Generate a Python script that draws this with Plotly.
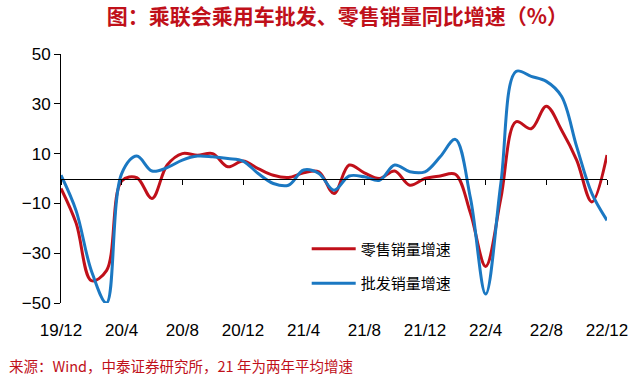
import plotly.graph_objects as go

months = ["19/12", "20/1", "20/2", "20/3", "20/4", "20/5", "20/6", "20/7", "20/8", "20/9", "20/10", "20/11",
          "20/12", "21/1", "21/2", "21/3", "21/4", "21/5", "21/6", "21/7", "21/8", "21/9", "21/10", "21/11",
          "21/12", "22/1", "22/2", "22/3", "22/4", "22/5", "22/6", "22/7", "22/8", "22/9", "22/10", "22/11", "22/12"]
tick_labels = ["19/12", "20/4", "20/8", "20/12", "21/4", "21/8", "21/12", "22/4", "22/8", "22/12"]

retail = [-4, -18, -41, -37, -1, 0.3, -8, 5.4, 10, 9.3, 10, 4.7, 7, 4, 1.3, 0.4, 2.3, 2.7, -6,
          5.4, 2.3, 0, 3, -2.7, 0, 1, 1.7, -14, -35.3, -8, 22.8, 20, 29, 19.5, 7.4, -9.4, 9.4]
wholesale = [1.3, -13, -37, -50, 2, 9, 3, 4.4, 7.4, 9, 8.7, 8, 7, 2, -2, -2.7, 3.4, 2, -4.7,
             1, 0.7, -0.7, 5.4, 2.7, 2.7, 8.7, 15.7, -8, -46.4, -2, 43, 41, 39, 33, 12.8, -6, -16.8]
y_ticks = [-50, -30, -10, 10, 30, 50]

RED = "#C0101A"
BLUE = "#1B78C2"
CJK = "Noto Sans CJK SC"

fig = go.Figure()
fig.add_trace(go.Scatter(x=months, y=retail, name="零售销量增速", mode="lines",
                         line=dict(color=RED, width=3, shape="spline"), legendgroup="a"))
fig.add_trace(go.Scatter(x=months, y=wholesale, name="批发销量增速", mode="lines",
                         line=dict(color=BLUE, width=3, shape="spline"), legendgroup="b",
                         xaxis="x2"))

fig.update_layout(
    width=640, height=377,
    margin=dict(l=61, r=26, t=54, b=74),
    paper_bgcolor="white", plot_bgcolor="white",
    title=dict(text="<b>图：乘联会乘用车批发、零售销量同比增速（%）</b>",
               x=0.527, xanchor="center", y=0.955, yanchor="middle",
               font=dict(family=CJK, size=21, color=RED)),
    xaxis=dict(type="category", categoryorder="array", categoryarray=months,
               range=[0, 36], tickvals=tick_labels, showline=False, showgrid=False, zeroline=False,
               ticks="outside", ticklen=12, tickcolor="rgba(0,0,0,0)",
               tickfont=dict(family="Liberation Sans, Arial", size=17, color="black")),
    xaxis2=dict(type="category", categoryorder="array", categoryarray=months,
                range=[0, 36], tickvals=tick_labels, overlaying="x", anchor="free", position=0.5,
                showline=True, linecolor="black", linewidth=1, showgrid=False, zeroline=False,
                ticks="outside", ticklen=5, tickcolor="black", showticklabels=False),
    yaxis=dict(range=[-50, 50], tickvals=y_ticks, showline=True, linecolor="black", linewidth=1,
               showgrid=False, zeroline=False, ticks="outside", ticklen=6, tickcolor="black",
               tickfont=dict(family="Liberation Sans, Arial", size=17, color="black")),
    legend=dict(x=0.45, xanchor="left", y=0.283, yanchor="top", bgcolor="rgba(0,0,0,0)",
                font=dict(family=CJK, size=15, color="black"), traceorder="grouped",
                tracegroupgap=12, itemwidth=44),
    showlegend=True,
    annotations=[dict(text="来源：Wind，中泰证券研究所，21 年为两年平均增速", xref="paper", yref="paper",
                      x=-0.098, y=-0.25, xanchor="left", yanchor="middle", showarrow=False,
                      font=dict(family=CJK, size=14.5, color=RED))],
)

fig.write_html("out.html")
